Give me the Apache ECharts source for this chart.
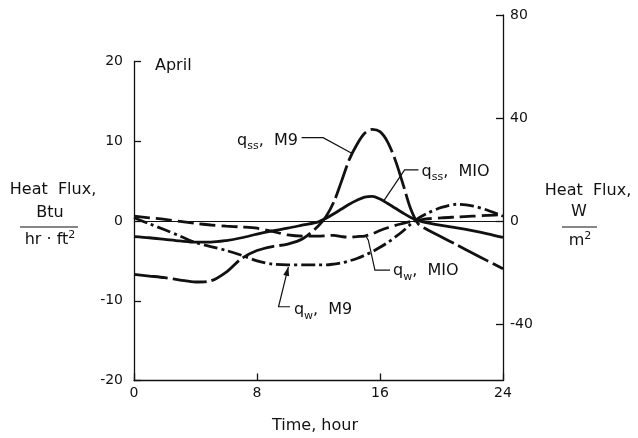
<!DOCTYPE html>
<html>
<head>
<meta charset="utf-8">
<script src="https://cdn.jsdelivr.net/npm/echarts@6/dist/echarts.min.js"></script>
<style>
html, body { margin: 0; background: #fff; }
#chart { width: 638px; height: 438px; }
</style>
</head>
<body>
<div id="chart"></div>
<script>
// 时间 (hour) 与四条热流曲线 (Btu/hr·ft²)
var hours = [0, 1, 2, 3, 4, 5, 6, 7, 8, 9, 10, 11, 12, 12.5, 13, 13.5, 14, 14.5, 15, 15.5, 16, 16.5, 17, 17.5, 18, 18.5, 19, 20, 21, 22, 23, 24];
var qssM9 = [-6.7, -6.9, -7.1, -7.4, -7.65, -7.5, -6.4, -4.7, -3.7, -3.2, -2.9, -2.2, -0.6,
    0.6, 2.4, 5.0, 7.7, 9.6, 11.0, 11.5, 11.2, 9.9, 7.6, 4.6, 1.5, -0.4,
    -1.0, -2.0, -3.0, -4.0, -5.0, -6.0];
var qssM10 = [-1.95, -2.1, -2.3, -2.5, -2.65, -2.65, -2.45, -2.1, -1.65, -1.25, -0.9, -0.5, -0.1,
    0.35, 0.9, 1.5, 2.1, 2.6, 3.0, 3.1, 2.75, 2.2, 1.6, 1.0, 0.45, 0.05,
    -0.2, -0.55, -0.85, -1.2, -1.6, -2.05];
var qwM10 = [0.6, 0.4, 0.2, -0.05, -0.3, -0.5, -0.65, -0.75, -0.9, -1.3, -1.75, -1.9, -1.9,
    -1.85, -1.8, -1.95, -2.05, -1.95, -1.9, -1.6, -1.2, -0.85, -0.55, -0.3, -0.05, 0.1,
    0.25, 0.4, 0.5, 0.6, 0.7, 0.8];
var qwM9 = [0.4, -0.35, -1.1, -1.9, -2.7, -3.2, -3.7, -4.3, -5.0, -5.4, -5.5, -5.5, -5.5,
    -5.5, -5.4, -5.25, -5.0, -4.7, -4.3, -3.85, -3.3, -2.7, -2.0, -1.25, -0.4, 0.35,
    0.9, 1.7, 2.1, 1.9, 1.35, 0.6];

var xTicks = [0, 8, 16, 24];
var leftTicks = [-20, -10, 0, 10, 20];
var rightTicks = [-40, 0, 40, 80];

var FONT = 'DejaVu Sans';

function pairs(vals) {
    var out = [];
    for (var i = 0; i < hours.length; i++) {
        out.push([hours[i], vals[i]]);
    }
    return out;
}

function curve(name, vals, dash) {
    return {
        name: name,
        type: 'line',
        xAxisIndex: 0,
        yAxisIndex: 0,
        data: pairs(vals),
        showSymbol: false,
        smooth: 0.3,
        silent: true,
        lineStyle: { color: '#111', width: 2.8, type: dash, cap: 'butt' }
    };
}

var chart = echarts.init(document.getElementById('chart'));

var axisCommon = {
    axisLine: { show: true, onZero: false, lineStyle: { color: '#111', width: 1.3 } },
    axisTick: { show: true, inside: true, length: 7, lineStyle: { color: '#111', width: 1.3 } },
    axisLabel: { color: '#111', fontSize: 14, fontFamily: FONT },
    splitLine: { show: false }
};

var option = {
    animation: false,
    backgroundColor: '#fff',
    grid: [
        { left: 134, right: 135, top: 61.5, bottom: 57.5 },
        { left: 134, right: 135, top: 15, bottom: 57.5 }
    ],
    xAxis: [
        Object.assign({}, axisCommon, {
            gridIndex: 0, type: 'value', min: 0, max: 24, interval: 8,
            axisLabel: { color: '#111', fontSize: 14, fontFamily: FONT, margin: 6 }
        }),
        { gridIndex: 1, type: 'value', min: 0, max: 24, show: false }
    ],
    yAxis: [
        Object.assign({}, axisCommon, {
            gridIndex: 0, type: 'value', min: -20, max: 20, interval: 10,
            axisLabel: { color: '#111', fontSize: 14, fontFamily: FONT, margin: 11 }
        }),
        Object.assign({}, axisCommon, {
            gridIndex: 1, type: 'value', position: 'right', min: -61.94, max: 80,
            axisTick: { show: true, inside: true, length: 7, customValues: rightTicks,
                lineStyle: { color: '#111', width: 1.3 } },
            axisLabel: { color: '#111', fontSize: 14, fontFamily: FONT, margin: 7, customValues: rightTicks }
        })
    ],
    series: [
        curve('qss, M9', qssM9, [34, 5]),
        Object.assign(curve('qss, M10', qssM10, 'solid'), {
            markLine: {
                silent: true,
                symbol: 'none',
                label: { show: false },
                lineStyle: { color: '#111', width: 1, type: 'solid' },
                data: [{ yAxis: 0 }]
            }
        }),
        curve('qw, M10', qwM10, [16, 6]),
        curve('qw, M9', qwM9, [14, 4, 3, 4])
    ]
};

chart.setOption(option);

// 注释文字和引线 (用数据坐标定位)
function p(h, v) {
    return chart.convertToPixel({ gridIndex: 0 }, [h, v]);
}

function qLabel(h, v, sub, rest) {
    var pt = p(h, v);
    return {
        type: 'text', x: pt[0], y: pt[1],
        style: {
            text: '{q|q}{s|' + sub + '}{t|' + rest + '}',
            verticalAlign: 'middle', align: 'left',
            rich: {
                q: { fontSize: 16, fontFamily: FONT, fill: '#111', lineHeight: 22 },
                s: { fontSize: 11, fontFamily: FONT, fill: '#111', lineHeight: 12, verticalAlign: 'bottom' },
                t: { fontSize: 16, fontFamily: FONT, fill: '#111', lineHeight: 22 }
            }
        }
    };
}

function leader(pts) {
    return {
        type: 'polyline',
        shape: { points: pts.map(function (d) { return p(d[0], d[1]); }) },
        style: { stroke: '#111', lineWidth: 1.2, fill: null }
    };
}

function arrowHead(from, to) {
    var a = p(from[0], from[1]);
    var b = p(to[0], to[1]);
    var dx = a[0] - b[0], dy = a[1] - b[1];
    var len = Math.sqrt(dx * dx + dy * dy);
    dx /= len; dy /= len;
    var nx = -dy, ny = dx;
    return {
        type: 'polygon',
        shape: { points: [b, [b[0] + dx * 9 + nx * 3, b[1] + dy * 9 + ny * 3], [b[0] + dx * 9 - nx * 3, b[1] + dy * 9 - ny * 3]] },
        style: { fill: '#111' }
    };
}

function plain(x, y, text, size, align) {
    return {
        type: 'text', x: x, y: y,
        style: { text: text, fontSize: size, fontFamily: FONT, fill: '#111', align: align || 'center', verticalAlign: 'middle' }
    };
}

function fracLine(x1, x2, y) {
    return { type: 'line', shape: { x1: x1, y1: y, x2: x2, y2: y }, style: { stroke: '#111', lineWidth: 1.2 } };
}

var supRich = {
    a: { fontSize: 16, fontFamily: FONT, fill: '#111', lineHeight: 20 },
    b: { fontSize: 11, fontFamily: FONT, fill: '#111', lineHeight: 12, verticalAlign: 'top' }
};

chart.setOption({
    graphic: [
        plain(155, 66, 'April', 16, 'left'),
        plain(315, 426, 'Time, hour', 16),

        plain(53, 190, 'Heat  Flux,', 16),
        plain(50, 213, 'Btu', 16),
        fracLine(20, 78, 227),
        { type: 'text', x: 50, y: 240, style: { text: '{a|hr · ft}{b|2}', align: 'center', verticalAlign: 'middle', rich: supRich } },

        plain(588, 191, 'Heat  Flux,', 16),
        plain(579, 212, 'W', 16),
        fracLine(562, 597, 227),
        { type: 'text', x: 580, y: 241, style: { text: '{a|m}{b|2}', align: 'center', verticalAlign: 'middle', rich: supRich } },

        qLabel(6.7, 10.1, 'ss', ',  M9'),
        leader([[10.9, 10.45], [12.3, 10.45], [14.16, 8.5]]),

        qLabel(18.7, 6.2, 'ss', ',  MIO'),
        leader([[18.5, 6.4], [17.6, 6.4], [16.2, 2.4]]),

        qLabel(16.85, -6.3, 'w', ',  MIO'),
        leader([[16.65, -6.15], [15.67, -6.15], [15.24, -2.4], [15.1, -1.95]]),

        qLabel(10.4, -11.2, 'w', ',  M9'),
        leader([[10.15, -10.75], [9.4, -10.75], [10.04, -5.75]]),
        arrowHead([9.4, -10.75], [10.04, -5.75])
    ]
});
</script>
</body>
</html>
